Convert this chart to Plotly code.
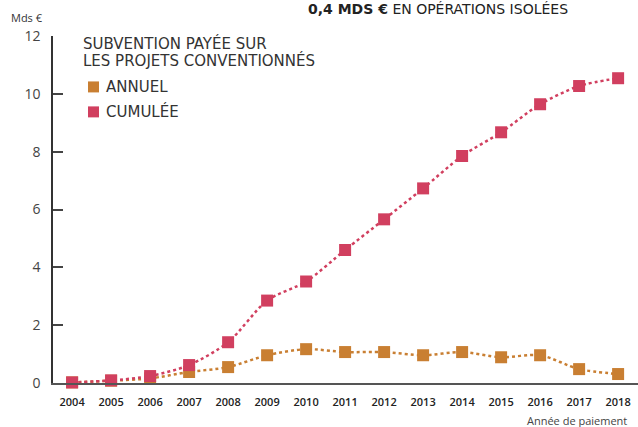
import plotly.graph_objects as go

# Données (Mds €)
annees = [2004, 2005, 2006, 2007, 2008, 2009, 2010, 2011, 2012, 2013, 2014, 2015, 2016, 2017, 2018]
annuel = [0.02, 0.08, 0.16, 0.38, 0.55, 0.96, 1.17, 1.07, 1.07, 0.96, 1.07, 0.89, 0.96, 0.48, 0.31]
cumulee = [0.02, 0.09, 0.24, 0.62, 1.41, 2.85, 3.51, 4.60, 5.66, 6.73, 7.85, 8.67, 9.64, 10.27, 10.54]
y_ticks = [0, 2, 4, 6, 8, 10, 12]

col_annuel = '#C97F32'
col_cumulee = '#D13F5F'
txt = '#333333'
font_family = 'Open Sans'
wide_font = 'DejaVu Sans'

# zone de tracé en pixels : gauche 53, haut 36, bas 383.5
PW, PH = 585, 347.5
def px(xpix):
    return (xpix - 53) / PW
def py(ypix):
    return 1 - (ypix - 36) / PH

fig = go.Figure()

for vals, col, name in [(annuel, col_annuel, 'ANNUEL'), (cumulee, col_cumulee, 'CUMULÉE')]:
    fig.add_trace(go.Scatter(
        x=annees, y=vals, name=name, mode='lines+markers',
        line=dict(color=col, width=2.5, dash='dot', shape='spline', smoothing=0.8),
        marker=dict(symbol='square', size=12, color=col),
        cliponaxis=False, showlegend=False,
    ))

fig.update_layout(
    width=638, height=427,
    margin=dict(l=53, r=0, t=36, b=43.5),
    plot_bgcolor='white', paper_bgcolor='white',
    font=dict(family=font_family, color=txt),
    xaxis=dict(range=[2003.51, 2018.51], tickvals=annees, showgrid=False, zeroline=False,
               showline=True, linecolor='#555555', linewidth=2, ticks='',
               tickfont=dict(size=11, color='#222222', weight=600), ticklabelstandoff=8),
    yaxis=dict(range=[0, 12], tickvals=y_ticks, showgrid=False, zeroline=False,
               showline=True, linecolor='#333333', linewidth=1.5,
               ticks='inside', ticklen=10, tickcolor='#444444', tickwidth=1.5,
               tickfont=dict(size=14, color='#444444'), ticklabelstandoff=8),
)

# Légende personnalisée
for ypix, line in [(43.5, 'SUBVENTION PAYÉE SUR'), (61, 'LES PROJETS CONVENTIONNÉS')]:
    fig.add_annotation(xref='paper', yref='paper', x=px(81), y=py(ypix),
                       xanchor='left', yanchor='middle', showarrow=False,
                       text=line, font=dict(family=wide_font, size=15, color=txt))
for ypix, col, name in [(87, col_annuel, 'ANNUEL'), (112, col_cumulee, 'CUMULÉE')]:
    fig.add_shape(type='rect', xref='paper', yref='paper',
                  x0=px(88), x1=px(99), y0=py(ypix + 5.5), y1=py(ypix - 5.5),
                  fillcolor=col, line=dict(width=0))
    fig.add_annotation(xref='paper', yref='paper', x=px(104), y=py(ypix),
                       xanchor='left', yanchor='middle', showarrow=False,
                       text=name, font=dict(family=wide_font, size=15, color=txt))

fig.add_annotation(xref='paper', yref='paper', x=px(9), y=py(17),
                   xanchor='left', yanchor='middle', showarrow=False,
                   text='Mds €', font=dict(size=11, color=txt))
fig.add_annotation(xref='paper', yref='paper', x=px(525), y=py(421),
                   xanchor='left', yanchor='middle', showarrow=False,
                   text='Année de paiement', font=dict(size=11, color='#444444'))
fig.add_annotation(xref='paper', yref='paper', x=px(438), y=py(9),
                   xanchor='center', yanchor='middle', showarrow=False,
                   text='<b>0,4 MDS €</b> EN OPÉRATIONS ISOLÉES',
                   font=dict(family=wide_font, size=14, color='#222222'))

# la page n'a pas de marge autour du graphique
fig.write_html('out.html', config={'displayModeBar': False},
               post_script="document.body.style.margin='0';")
